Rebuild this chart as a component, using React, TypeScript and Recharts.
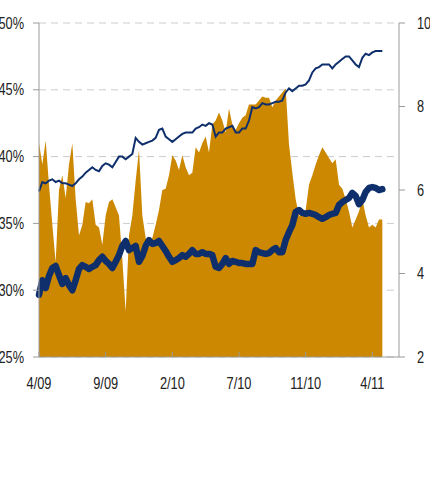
import { ComposedChart, Area, Line, XAxis, YAxis, CartesianGrid } from "recharts";

// weekly observations, Apr 2009 – May 2011
const areaPct = [
  41.0, 39.4, 41.2, 37.9, 34.9, 32.1, 37.5, 38.6, 36.9, 39.4,
  41.0, 36.8, 34.1, 34.9, 36.6, 36.5, 36.8, 34.9, 34.7, 33.4,
  35.6, 36.6, 36.8, 36.2, 35.6, 32.3, 28.4, 34.1, 35.6, 38.2,
  40.5, 35.6, 33.9, 33.2, 33.9, 34.9, 36.0, 37.5, 37.6, 38.6,
  40.1, 39.7, 39.0, 40.1, 39.2, 38.6, 38.8, 40.7, 40.3, 41.0,
  41.5, 40.3, 42.4, 42.7, 43.3, 42.7, 41.8, 43.6, 42.4, 42.0,
  42.5, 42.9, 43.1, 43.9, 43.9, 43.9, 44.2, 44.5, 44.4, 44.4,
  43.7, 44.2, 44.5, 44.8, 45.1, 40.9, 38.8, 36.8, 35.6, 35.6,
  36.0, 37.9, 38.6, 39.4, 40.1, 40.7, 40.3, 39.9, 39.5, 39.8,
  37.9, 37.6, 36.8, 35.9, 34.7, 35.3, 35.9, 36.8, 35.6, 34.7,
  34.9, 34.7, 35.3, 35.3,
];

const thinPct = [
  37.4, 38.1, 38.0, 38.2, 38.3, 38.1, 38.2, 38.0, 38.0, 37.9,
  37.8, 38.0, 38.3, 38.5, 38.8, 39.0, 39.2, 39.0, 38.9, 39.3,
  39.5, 39.4, 39.2, 39.6, 40.0, 40.0, 39.8, 40.0, 40.2, 41.4,
  41.1, 40.9, 41.0, 41.1, 41.2, 41.4, 42.0, 42.1, 41.5, 41.3,
  41.1, 41.3, 41.5, 41.7, 41.8, 41.8, 41.8, 42.1, 42.2, 42.4,
  42.3, 42.5, 42.4, 41.5, 41.8, 41.8, 42.1, 42.2, 42.3, 41.8,
  41.8, 42.1, 42.1, 42.7, 43.7, 43.6, 43.7, 44.0, 43.9, 43.9,
  44.0, 44.1, 44.1, 44.2, 44.8, 45.1, 44.9, 45.1, 45.3, 45.3,
  45.4, 45.7, 46.3, 46.6, 46.7, 46.9, 46.9, 46.9, 46.6, 46.9,
  47.1, 47.3, 47.5, 47.5, 47.2, 46.9, 46.7, 47.4, 47.7, 47.6,
  47.8, 47.9, 47.9, 47.9,
];

const thickRatio = [
  3.49, 3.84, 3.65, 3.94, 4.13, 4.18, 3.96, 3.75, 3.89, 3.72,
  3.60, 3.84, 4.11, 4.20, 4.16, 4.11, 4.16, 4.20, 4.32, 4.40,
  4.30, 4.23, 4.13, 4.28, 4.44, 4.66, 4.78, 4.56, 4.61, 4.66,
  4.28, 4.42, 4.66, 4.80, 4.71, 4.73, 4.78, 4.66, 4.54, 4.40,
  4.28, 4.32, 4.37, 4.44, 4.40, 4.47, 4.56, 4.47, 4.47, 4.51,
  4.47, 4.47, 4.44, 4.16, 4.13, 4.23, 4.37, 4.23, 4.30, 4.28,
  4.25, 4.25, 4.23, 4.23, 4.23, 4.56, 4.51, 4.49, 4.47, 4.49,
  4.56, 4.61, 4.51, 4.51, 4.80, 4.99, 5.16, 5.47, 5.52, 5.45,
  5.43, 5.45, 5.43, 5.40, 5.35, 5.31, 5.35, 5.40, 5.43, 5.45,
  5.64, 5.71, 5.76, 5.81, 5.93, 5.86, 5.66, 5.76, 5.95, 6.05,
  6.07, 6.05, 6.00, 6.02,
];

const xTickWeeks = [0, 20, 40, 60, 80, 100];
const xTickLabels = ["4/09", "9/09", "2/10", "7/10", "11/10", "4/11"];
const leftTicks = [25, 30, 35, 40, 45, 50];
const rightTicks = [2, 4, 6, 8, 10];

const data = areaPct.map((v, i) => ({
  week: i,
  area: v,
  thin: thinPct[i],
  thick: thickRatio[i],
}));

const GOLD = "#CC8800";
const NAVY = "#0F2F6C";
const AXIS = "#9a9a9a";
const FONT = "'Liberation Sans', Arial, sans-serif";

// condensed-looking label: squeeze horizontally
function Label({ x, y, anchor, children }: any) {
  return (
    <text
      transform={`translate(${x},${y}) scale(0.8,1)`}
      textAnchor={anchor}
      dy="0.355em"
      fill="#222"
      fontSize={16}
      fontFamily={FONT}
    >
      {children}
    </text>
  );
}

function XTick(props: any) {
  const { x, y, payload } = props;
  const idx = xTickWeeks.indexOf(payload.value);
  return (
    <g>
      <line x1={x} x2={x} y1={y - 5} y2={y} stroke={AXIS} />
      <Label x={x} y={y + 26} anchor="middle">{xTickLabels[idx]}</Label>
    </g>
  );
}

function LeftTick(props: any) {
  const { x, y, payload } = props;
  return <Label x={x} y={y} anchor="end">{`${payload.value}%`}</Label>;
}

function RightTick(props: any) {
  const { x, y, payload } = props;
  return <Label x={x} y={y} anchor="start">{payload.value}</Label>;
}

export default function App() {
  return (
    <div style={{ position: "absolute", left: 0, top: 0 }}>
      <ComposedChart
        width={430}
        height={483}
        data={data}
        margin={{ top: 23, right: 0, left: 0, bottom: 96 }}
      >
        <CartesianGrid yAxisId="left" vertical={false} stroke="#cccccc" strokeDasharray="7 5" />
        <XAxis
          dataKey="week"
          type="number"
          domain={[0, 108]}
          ticks={xTickWeeks}
          height={30}
          tickSize={0}
          tickMargin={0}
          tickLine={false}
          stroke={AXIS}
          tick={<XTick />}
        />
        <YAxis
          yAxisId="left"
          domain={[25, 50]}
          ticks={leftTicks}
          width={39}
          tickSize={6}
          tickMargin={9}
          stroke={AXIS}
          tick={<LeftTick />}
        />
        <YAxis
          yAxisId="right"
          orientation="right"
          domain={[2, 10]}
          ticks={rightTicks}
          width={31}
          tickSize={6}
          tickMargin={12}
          stroke={AXIS}
          tick={<RightTick />}
        />
        <Area
          yAxisId="left"
          dataKey="area"
          type="linear"
          fill={GOLD}
          fillOpacity={1}
          stroke="none"
          isAnimationActive={false}
        />
        <Line
          yAxisId="left"
          dataKey="thin"
          type="linear"
          stroke={NAVY}
          strokeWidth={2}
          dot={false}
          isAnimationActive={false}
        />
        <Line
          yAxisId="right"
          dataKey="thick"
          type="linear"
          stroke={NAVY}
          strokeWidth={6.5}
          strokeLinejoin="round"
          strokeLinecap="round"
          dot={false}
          isAnimationActive={false}
        />
      </ComposedChart>
    </div>
  );
}
